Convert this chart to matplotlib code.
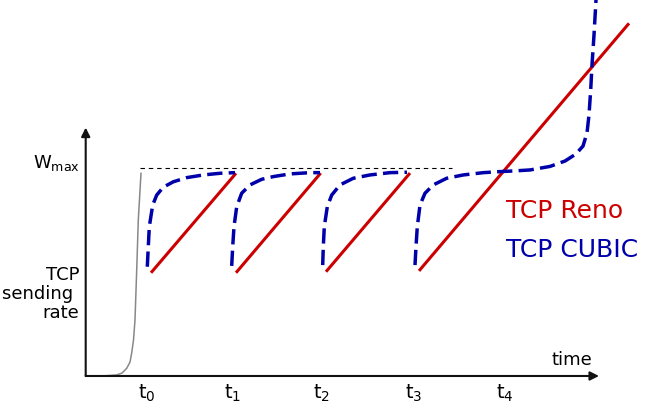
import matplotlib
matplotlib.use("Agg")
import matplotlib.pyplot as plt

# units: time (1 unit ~ 10 px), rate in % of Wmax
tick_pos = [6.13, 14.68, 23.63, 32.83, 41.93]
tick_lbl = ['$\\mathregular{t_0}$', '$\\mathregular{t_1}$', '$\\mathregular{t_2}$',
            '$\\mathregular{t_3}$', '$\\mathregular{t_4}$']

# slow start
ss_t = [0, 1.93, 3.10, 3.63, 4.10, 4.43, 4.60, 4.78, 4.93, 5.10, 5.26, 5.53]
ss_w = [0, 0.1, 0.5, 1.4, 3.7, 6.7, 11.1, 17.3, 27.0, 51.0, 75.1, 97.6]

# TCP Reno saw-tooth segments
reno_t = [[6.53, 15.03], [15.03, 23.50], [24.03, 32.43], [33.33, 54.33]]
reno_w = [[49.7, 97.6], [49.7, 97.7], [50.2, 97.7], [50.6, 169.8]]

# TCP CUBIC epochs
cubic_t = [
    [6.16, 6.26, 6.36, 6.70, 7.10, 7.76, 8.76, 10.10, 11.76, 13.43, 14.93],
    [14.60, 14.70, 14.83, 15.10, 15.60, 16.43, 17.60, 18.76, 20.43, 22.43, 23.43],
    [23.70, 23.76, 23.86, 24.16, 24.60, 25.43, 26.76, 28.43, 30.43, 32.13],
    [32.93, 33.03, 33.16, 33.43, 33.93, 34.76, 36.10, 37.76, 39.76, 41.43, 42.73,
     44.43, 46.43, 47.93, 49.03, 49.73, 50.13, 50.33, 50.50, 50.63, 50.83, 51.03, 51.08],
]
cubic_w = [
    [52.6, 62.3, 71.9, 82.3, 87.1, 90.9, 93.5, 95.5, 96.8, 97.6, 97.9],
    [53.0, 62.3, 71.9, 81.5, 88.0, 92.0, 94.7, 96.0, 97.3, 97.9, 97.9],
    [53.4, 62.3, 71.9, 81.5, 87.1, 92.0, 95.2, 96.8, 97.9, 98.1],
    [53.4, 62.3, 71.9, 82.3, 88.0, 92.0, 95.2, 96.8, 97.9, 98.4, 98.7,
     99.2, 100.9, 103.5, 106.9, 110.7, 117.0, 125.7, 137.7, 149.7, 164.2, 181.0, 184.9],
]

wmax_t = [5.43, 36.63]
wmax_w = [100, 100]

red = '#cc0000'
blue = '#0000aa'

fig = plt.figure(figsize=(6.48, 4.07), dpi=100)
ax = fig.add_axes([0, 0, 1, 1])
ax.set_xlim(-8.57, 56.23)
ax.set_ylim(-14.93, 181.03)
ax.axis('off')

# axes arrows
arrow = dict(arrowstyle='-|>', color='#111111', lw=1.5, mutation_scale=13, shrinkA=0, shrinkB=0)
ax.annotate('', xy=(51.33, 0), xytext=(0, 0), arrowprops=arrow)
ax.annotate('', xy=(0, 119.6), xytext=(0, 0), arrowprops=arrow)

ax.plot(wmax_t, wmax_w, color='black', lw=0.8, dashes=(4, 3.5))
ax.plot(ss_t, ss_w, color='#888888', lw=1.1)

for t, w in zip(reno_t, reno_w):
    ax.plot(t, w, color=red, lw=2.2, solid_capstyle='butt')
for t, w in zip(cubic_t, cubic_w):
    ax.plot(t, w, color=blue, lw=2.5, dashes=(4.4, 1.8))

for x, s in zip(tick_pos, tick_lbl):
    ax.text(x, -11.1, s, ha='center', va='baseline', fontsize=14)

ax.text(-0.57, 100.3, '$\\mathregular{W_{max}}$', ha='right', va='baseline', fontsize=13)
ax.text(-0.64, 27.8, 'TCP\nsending \nrate', ha='right', va='baseline',
        multialignment='right', fontsize=13, linespacing=1.07)
ax.text(46.6, 5.3, 'time', ha='left', va='baseline', fontsize=13)

ax.text(42.03, 75.9, 'TCP Reno', color=red, ha='left', va='baseline', fontsize=18)
ax.text(42.03, 57.4, 'TCP CUBIC', color=blue, ha='left', va='baseline', fontsize=18)

fig.savefig('out.png', dpi=100)
